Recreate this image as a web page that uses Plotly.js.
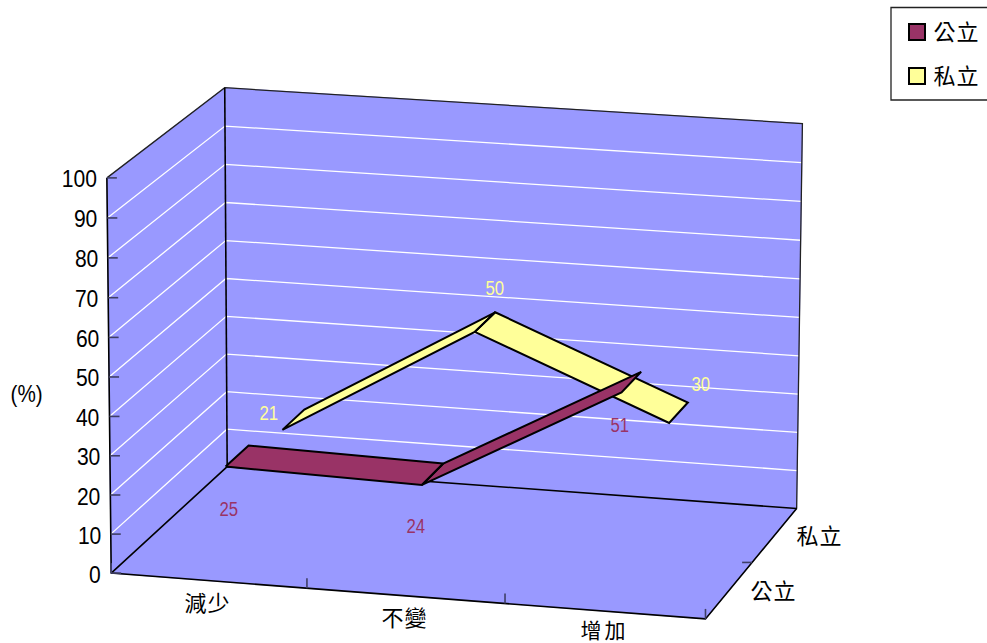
<!DOCTYPE html>
<html>
<head>
<meta charset="utf-8">
<script src="https://cdn.plot.ly/plotly-3.0.1.min.js"></script>
<style>html,body{margin:0;padding:0;background:#fff;overflow:hidden}#chart{width:987px;height:643px}</style>
</head>
<body>
<div id="chart"></div>
<script>
// ---- data ----
const categories = ['減少', '不變', '增加'];
const seriesNames = ['公立', '私立'];
const publicValues = [25, 24, 51];
const privateValues = [21, 50, 30];
const valueTicks = [0, 10, 20, 30, 40, 50, 60, 70, 80, 90, 100];

// ---- styles ----
const wallColor = '#9999FF';
const publicColor = '#993366';
const privateColor = '#FFFF99';
const latin = '"Liberation Sans", Arial, sans-serif';
const cjk = '"Noto Sans CJK TC", sans-serif';
const latinSqueeze = 0.86;
const cjkTextWidth = 45;

// ---- projection of the chart box onto the page (normalised x, value/100, depth) ----
const calibration = [
  [0, 0, 0, 110.5, 572.5], [1, 0, 0, 705.5, 618.5], [0, 1, 0, 107, 178],
  [0, 0, 1, 227, 466], [1, 0, 1, 797, 507.5], [0, 1, 1, 225, 87.5], [1, 1, 1, 801.5, 122],
  [0.5, 0.5, 0.85, 495, 314], [0.5, 0.5, 0.65, 476, 332],
  [5 / 6, 0.3, 0.85, 687, 404], [5 / 6, 0.3, 0.65, 670, 424]
];
function solveCamera(pts) {
  const rows = [], rhs = [];
  pts.forEach(([x, y, z, u, v]) => {
    rows.push([x, y, z, 1, 0, 0, 0, 0, -u * x, -u * y, -u * z]); rhs.push(u);
    rows.push([0, 0, 0, 0, x, y, z, 1, -v * x, -v * y, -v * z]); rhs.push(v);
  });
  const n = 11, A = [];
  for (let i = 0; i < n; i++) {
    A.push([]);
    for (let j = 0; j <= n; j++) {
      let s = 0;
      rows.forEach((r, k) => { s += r[i] * (j < n ? r[j] : rhs[k]); });
      A[i].push(s);
    }
  }
  for (let i = 0; i < n; i++) {
    let p = i;
    for (let k = i + 1; k < n; k++) if (Math.abs(A[k][i]) > Math.abs(A[p][i])) p = k;
    [A[i], A[p]] = [A[p], A[i]];
    for (let k = 0; k < n; k++) {
      if (k === i) continue;
      const f = A[k][i] / A[i][i];
      for (let j = i; j <= n; j++) A[k][j] -= f * A[i][j];
    }
  }
  return A.map((r, i) => r[n] / r[i]);
}
const cam = solveCamera(calibration);
function project(x, y, z) {
  const w = cam[8] * x + cam[9] * y + cam[10] * z + 1;
  return [(cam[0] * x + cam[1] * y + cam[2] * z + cam[3]) / w,
          (cam[4] * x + cam[5] * y + cam[6] * z + cam[7]) / w];
}

// ---- helpers ----
function polyline(points) {
  const xs = [], ys = [];
  points.forEach(p => {
    if (p === null) { xs.push(null); ys.push(null); }
    else { xs.push(p[0]); ys.push(p[1]); }
  });
  return { x: xs, y: ys };
}
const traces = [];
function addFill(points, color, name) {
  traces.push(Object.assign(polyline(points), {
    type: 'scatter', mode: 'lines', fill: 'toself', fillcolor: color,
    line: { color: color, width: 1 }, name: name, hoverinfo: 'skip', showlegend: false
  }));
}
function addLines(points, color, width, name) {
  traces.push(Object.assign(polyline(points), {
    type: 'scatter', mode: 'lines', line: { color: color, width: width },
    name: name, hoverinfo: 'skip', showlegend: false
  }));
}

// walls and floor
addFill([[0, 0, 0], [0, 1, 0], [0, 1, 1], [0, 0, 1], [0, 0, 0]].map(p => project(...p)), wallColor, 'side wall');
addFill([[0, 0, 1], [0, 1, 1], [1, 1, 1], [1, 0, 1], [0, 0, 1]].map(p => project(...p)), wallColor, 'back wall');
addFill([[0, 0, 0], [1, 0, 0], [1, 0, 1], [0, 0, 1], [0, 0, 0]].map(p => project(...p)), wallColor, 'floor');

// gridlines
const grid = [];
valueTicks.slice(1, -1).forEach(t => {
  grid.push(project(0, t / 100, 0), project(0, t / 100, 1), project(1, t / 100, 1), null);
});
addLines(grid, '#FFFFFF', 1.3, 'grid');

// edges
const thin = [project(0, 1, 0), project(0, 1, 1), project(1, 1, 1), project(1, 0, 1)];
addLines(thin, '#222222', 1.3, 'top edges');
addLines([project(0, 0, 1), project(0, 1, 1)], '#000000', 1.6, 'back corner');
addLines([project(0, 1, 0), project(0, 0, 0), project(1, 0, 0), project(1, 0, 1), project(0, 0, 1), project(0, 0, 0)], '#000000', 1.6, 'floor edges');

// ticks
const ticks = [];
valueTicks.forEach(t => {
  const p = project(0, t / 100, 0);
  ticks.push(p, [p[0] + 10, p[1]], null);
});
categories.concat(['']).forEach((c, i) => {
  const p = project(i / categories.length, 0, 0);
  ticks.push(p, [p[0], p[1] - 10], null);
});
const zTick = project(1, 0, 0.5);
ticks.push(zTick, [zTick[0] - 10, zTick[1]], null);
addLines(ticks, '#3F3F66', 1.6, 'ticks');

// ribbons
const ribbonHalf = 0.1;
function ribbon(values, band, color, name) {
  const n = categories.length, zc = (band + 0.5) / seriesNames.length;
  const pts = [];
  for (let i = 0; i < n - 1; i++) {
    const x0 = (i + 0.5) / n, x1 = (i + 1.5) / n, y0 = values[i] / 100, y1 = values[i + 1] / 100;
    pts.push(project(x0, y0, zc - ribbonHalf), project(x1, y1, zc - ribbonHalf),
             project(x1, y1, zc + ribbonHalf), project(x0, y0, zc + ribbonHalf),
             project(x0, y0, zc - ribbonHalf), null);
  }
  traces.push(Object.assign(polyline(pts), {
    type: 'scatter', mode: 'lines', fill: 'toself', fillcolor: color,
    line: { color: '#000000', width: 2 }, name: name, hoverinfo: 'skip', showlegend: false
  }));
}
ribbon(privateValues, 1, privateColor, seriesNames[1]);
ribbon(publicValues, 0, publicColor, seriesNames[0]);

// ---- text ----
const annotations = [];
function label(pos, text, font, color, size, anchor, dx, dy) {
  annotations.push({
    x: pos[0], y: pos[1], xref: 'x', yref: 'y', text: text, showarrow: false,
    xanchor: anchor, yanchor: 'middle', xshift: dx, yshift: -dy,
    font: { family: font, size: size, color: color }, borderpad: 0, borderwidth: 0
  });
}
valueTicks.forEach(t => {
  const w = String(t).length * 0.556 * 24.5;
  label(project(0, t / 100, 0), String(t), latin, '#000000', 24.5, 'right', -10 + w * (1 - latinSqueeze) / 2, 1);
});
categories.forEach((c, i) => label(project((i + 0.5) / categories.length, 0, 0), c, cjk, '#000000', i === 2 ? 21 : 22, 'center', -2, i === 2 ? 18 : 20));
seriesNames.forEach((s, i) => label(project(1, 0, (i + 0.5) / seriesNames.length), s, cjk, '#000000', 22, 'center', 44, -1));

const publicLabelOffsets = [[-8, 53], [-17, 52], [-11, 43]];
const privateLabelOffsets = [[-24, -7], [10, -34], [22, -29]];
publicValues.forEach((v, i) => label(project((i + 0.5) / 3, v / 100, 0.25), String(v), latin, publicColor, 19.5, 'center', publicLabelOffsets[i][0], publicLabelOffsets[i][1]));
privateValues.forEach((v, i) => label(project((i + 0.5) / 3, v / 100, 0.75), String(v), latin, privateColor, 19.5, 'center', privateLabelOffsets[i][0], privateLabelOffsets[i][1]));

label([26, 393], '(%)', latin, '#000000', 24, 'center', 0, 0);

// legend
const shapes = [
  { type: 'rect', xref: 'x', yref: 'y', x0: 891, x1: 995, y0: 7.5, y1: 100, line: { color: '#222222', width: 1.3 }, fillcolor: '#FFFFFF' },
  { type: 'rect', xref: 'x', yref: 'y', x0: 909, x1: 925, y0: 24, y1: 40, line: { color: '#000000', width: 2 }, fillcolor: publicColor },
  { type: 'rect', xref: 'x', yref: 'y', x0: 909, x1: 925, y0: 68, y1: 84, line: { color: '#000000', width: 2 }, fillcolor: privateColor }
];
label([955.5, 30], seriesNames[0], cjk, '#000000', 22, 'center', 0, 0);
label([955.5, 74], seriesNames[1], cjk, '#000000', 22, 'center', 0, 0);

Plotly.newPlot('chart', traces, {
  width: 987, height: 643,
  margin: { l: 0, r: 0, t: 0, b: 0, pad: 0 },
  paper_bgcolor: '#FFFFFF', plot_bgcolor: '#FFFFFF',
  showlegend: false,
  xaxis: { range: [0, 987], visible: false, fixedrange: true },
  yaxis: { range: [643, 0], visible: false, fixedrange: true },
  shapes: shapes,
  annotations: annotations
}, { staticPlot: true, displayModeBar: false }).then(() => {
  // squeeze Latin labels and open up CJK labels the way the original's text is set
  document.querySelectorAll('.annotation-text').forEach(t => {
    const isLatin = /^[\d(%)]+$/.test(t.textContent);
    if (isLatin) {
      t.setAttribute('lengthAdjust', 'spacingAndGlyphs');
      t.setAttribute('textLength', t.getComputedTextLength() * latinSqueeze);
    } else {
      t.setAttribute('lengthAdjust', 'spacing');
      t.setAttribute('textLength', cjkTextWidth);
    }
  });
});
</script>
</body>
</html>
